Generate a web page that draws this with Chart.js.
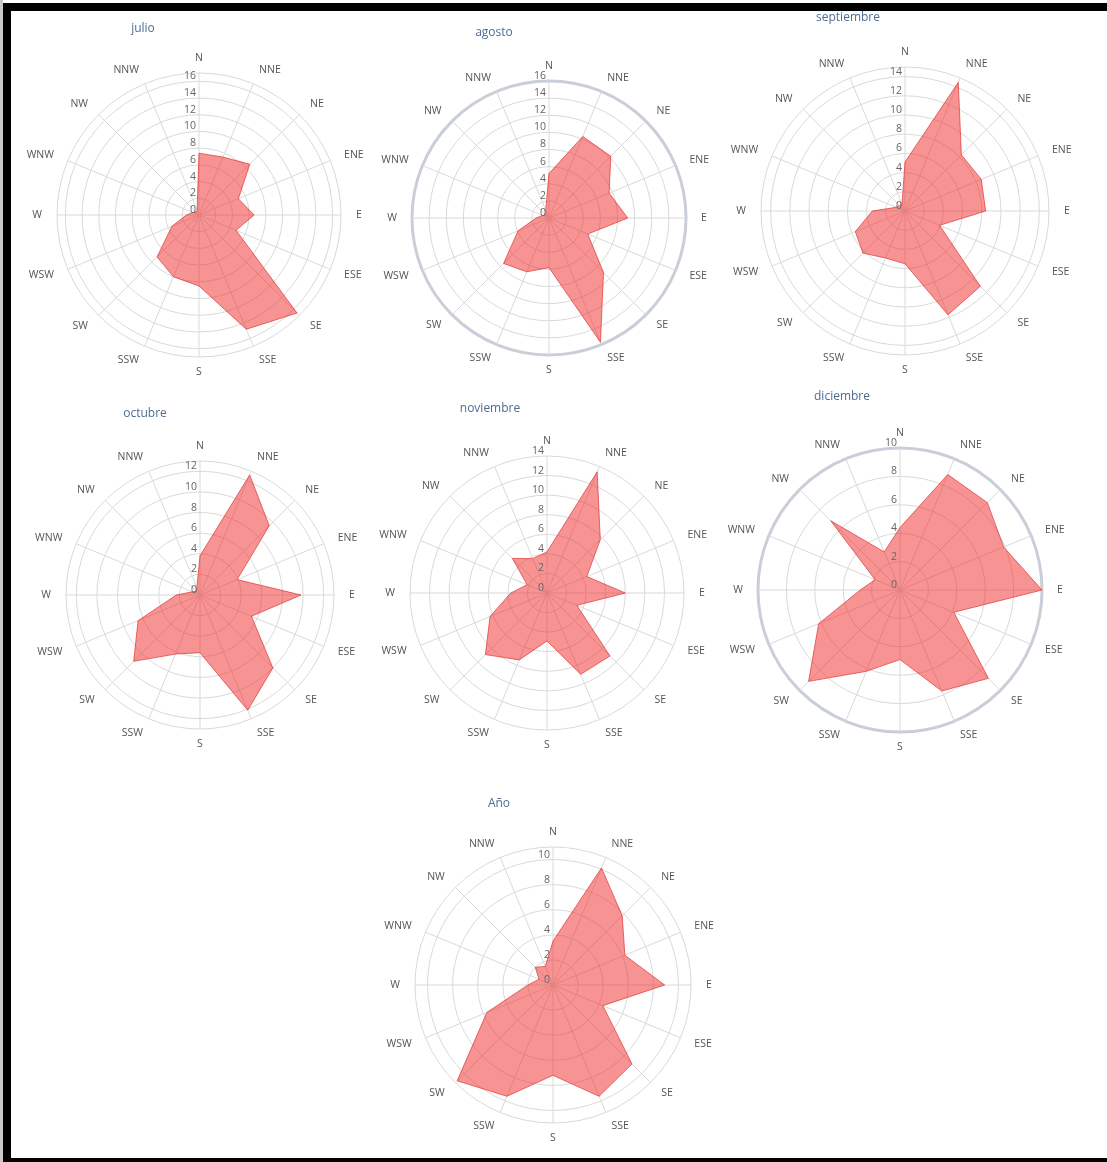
<!DOCTYPE html>
<html>
<head>
<meta charset="utf-8">
<script src="https://cdn.jsdelivr.net/npm/chart.js@4.4.0/dist/chart.umd.min.js"></script>
<style>
  html, body { margin: 0; padding: 0; background: #fff; }
  #page { position: relative; width: 1107px; height: 1162px; background: #fff; overflow: hidden; }
  .bar { position: absolute; background: #000; }
  .rose { position: absolute; }
  .title { position: absolute; font: 12px "Open Sans", sans-serif; color: #4d6c96; transform: translate(-50%, -50%); white-space: nowrap; }
</style>
</head>
<body>
<div id="page">
  <div class="bar" style="left:0;top:0;width:3px;height:1162px;background:#c8c8c8"></div>
  <div class="bar" style="left:3px;top:3px;width:8px;height:1159px"></div>
  <div class="bar" style="left:3px;top:3px;width:1104px;height:8px"></div>
  <div class="bar" style="left:3px;top:1158px;width:1104px;height:4px"></div>
</div>
<script>
// wind directions (spokes)
const directions = ['N', 'NNE', 'NE', 'ENE', 'E', 'ESE', 'SE', 'SSE', 'S', 'SSW', 'SW', 'WSW', 'W', 'WNW', 'NW', 'NNW'];

// one rose per period
const periods = ['julio', 'agosto', 'septiembre', 'octubre', 'noviembre', 'diciembre', 'Año'];

// frequencies per direction
const julio      = [7.4, 7.5, 8.6, 5.1, 6.6, 4.8, 16.6, 14.8, 8.5, 8.0, 7.1, 3.5, 1.5, 0.8, 0.5, 0.6];
const agosto     = [5.2, 10.3, 10.2, 7.6, 9.2, 4.9, 9.0, 15.7, 5.8, 6.8, 7.5, 3.9, 1.5, 0.8, 0.5, 1.0];
const septiembre = [5.1, 14.5, 8.3, 8.6, 8.4, 3.9, 11.1, 11.7, 5.5, 5.3, 6.2, 5.6, 3.4, 1.0, 0.8, 0.8];
const octubre    = [3.8, 12.6, 9.5, 3.9, 9.8, 5.4, 10.0, 12.1, 5.6, 6.2, 9.1, 6.5, 2.3, 0.8, 0.5, 0.8];
const noviembre  = [4.2, 13.4, 7.7, 4.4, 8.0, 3.3, 9.1, 9.0, 4.9, 7.4, 8.9, 6.3, 3.7, 2.2, 5.0, 3.8];
const diciembre  = [4.4, 8.8, 8.7, 7.9, 10.0, 4.1, 8.8, 7.7, 4.9, 6.2, 9.1, 6.2, 2.8, 1.9, 6.9, 2.9];
const anio       = [3.5, 10.1, 7.8, 6.2, 8.9, 4.3, 8.9, 9.6, 7.2, 9.6, 10.8, 5.7, 2.0, 1.2, 2.0, 1.6];

const series = [julio, agosto, septiembre, octubre, noviembre, diciembre, anio];

// radial axis maximum for each rose, ticks every 2
const axisMax = [17, 16, 15, 13, 14, 10, 11];
const tickStep = 2;

// layout: centre x, centre y, radius, title x, title y, heavy outer ring
const layout = [
  [199, 215, 142, 143, 27, false],
  [549, 218, 137, 494, 31, true],
  [905, 211, 144, 848, 16, false],
  [200, 595, 134, 145, 412, false],
  [547, 593, 137, 490, 407, false],
  [900, 590, 142, 842, 395, true],
  [553, 985, 138, 499, 802, false]
];

const roseLabels = {
  id: 'roseLabels',
  afterDatasetsDraw(chart) {
    const r = chart.scales.r;
    const ctx = chart.ctx;
    ctx.save();
    ctx.font = '10.5px "Open Sans", sans-serif';
    ctx.fillStyle = '#666';
    ctx.textAlign = 'right';
    ctx.textBaseline = 'middle';
    r.ticks.forEach(t => {
      if (t.value % tickStep !== 0) return;
      const y = r.yCenter - r.getDistanceFromCenterForValue(t.value);
      ctx.fillText(String(t.value), r.xCenter - 3, y - 5);
    });
    ctx.fillStyle = '#555';
    directions.forEach((d, i) => {
      const p = r.getPointPosition(i, r.drawingArea + 15);
      const dx = p.x - r.xCenter;
      ctx.textAlign = dx > 3 ? 'left' : (dx < -3 ? 'right' : 'center');
      ctx.fillText(d, p.x, p.y);
    });
    ctx.restore();
  }
};

const page = document.getElementById('page');
const half = 205;

periods.forEach((name, k) => {
  const [cx, cy, rad, tx, ty, heavy] = layout[k];

  const title = document.createElement('div');
  title.className = 'title';
  title.style.left = tx + 'px';
  title.style.top = ty + 'px';
  title.textContent = name;
  page.appendChild(title);

  const canvas = document.createElement('canvas');
  canvas.className = 'rose';
  canvas.width = half * 2;
  canvas.height = half * 2;
  canvas.style.left = (cx - half) + 'px';
  canvas.style.top = (cy - half) + 'px';
  page.insertBefore(canvas, page.firstChild);

  const max = axisMax[k];
  new Chart(canvas.getContext('2d'), {
    type: 'radar',
    data: {
      labels: directions,
      datasets: [{
        data: series[k],
        backgroundColor: 'rgba(240, 40, 40, 0.5)',
        borderColor: 'rgba(225, 60, 60, 0.75)',
        borderWidth: 1,
        pointRadius: 0,
        fill: true
      }]
    },
    options: {
      responsive: false,
      animation: false,
      layout: { padding: half - rad },
      plugins: { legend: { display: false }, tooltip: { enabled: false } },
      scales: {
        r: {
          min: 0,
          max: max,
          ticks: { display: false, stepSize: tickStep },
          pointLabels: { display: false },
          grid: {
            circular: true,
            color: c => (heavy && c.tick && c.tick.value === max) ? '#c9ced8' : '#d9d9d9',
            lineWidth: c => (heavy && c.tick && c.tick.value === max) ? 3 : 1
          },
          angleLines: { color: '#d9d9d9', lineWidth: 1 }
        }
      }
    },
    plugins: [roseLabels]
  });
});
</script>
</body>
</html>
